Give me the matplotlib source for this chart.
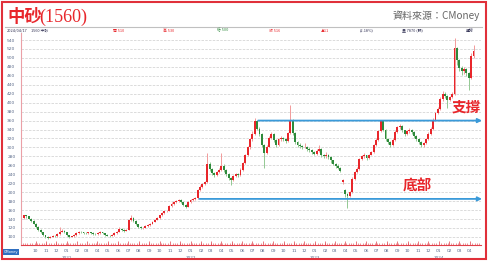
import numpy as np
import pandas as pd
import matplotlib
matplotlib.use("Agg")
import matplotlib.pyplot as plt
import matplotlib.dates as mdates
from matplotlib.patches import Rectangle
from matplotlib.lines import Line2D
from matplotlib.transforms import blended_transform_factory

# weekly candles, 2020-08-28 .. 2024-04-12
dates = pd.date_range("2020-08-28", periods=190, freq="7D")

closes = [
    148, 146, 141, 136, 130, 122, 116, 110, 104, 99,
    98, 100, 103, 101, 106, 112, 114, 110, 104, 100,
    101, 104, 108, 111, 110, 109, 108, 110, 108, 107,
    106, 109, 110, 108, 105, 103, 102, 104, 108, 112,
    118, 116, 114, 116, 137, 142, 136, 129, 122, 119,
    121, 124, 127, 130, 134, 138, 142, 148, 153, 157,
    158, 170, 174, 177, 180, 182, 178, 172, 167, 178,
    182, 185, 186, 205, 212, 218, 222, 264, 252, 242,
    238, 245, 250, 258, 250, 240, 232, 228, 236, 240,
    238, 250, 265, 282, 300, 318, 330, 358, 342, 330,
    305, 288, 302, 322, 330, 316, 306, 318, 322, 318,
    314, 332, 362, 332, 312, 306, 303, 300, 302, 297,
    294, 290, 286, 292, 296, 282, 280, 284, 278, 271,
    264, 259, 255, 248, 227, 196, 192, 200, 230, 245,
    252, 274, 280, 282, 277, 283, 290, 305, 316, 336,
    358, 340, 318, 312, 305, 316, 335, 345, 348, 338,
    330, 336, 340, 334, 325, 318, 312, 305, 310, 318,
    330, 342, 362, 376, 386, 408, 420, 416, 405, 412,
    420, 522, 495, 478, 470, 476, 466, 456, 505, 516,
]

opens = [143] + closes[:-1]
opens[134] = 222
opens[135] = 205

highs = [
    150, 150, 147, 142, 137, 131, 124, 117, 111, 105,
    101, 102, 105, 105, 108, 122, 117, 115, 111, 105,
    103, 106, 110, 113, 113, 112, 111, 112, 111, 110,
    109, 111, 113, 111, 109, 106, 104, 106, 110, 114,
    122, 120, 118, 118, 139, 149, 144, 137, 130, 124,
    123, 126, 129, 132, 136, 140, 144, 150, 155, 159,
    161, 172, 177, 180, 183, 185, 184, 179, 174, 180,
    185, 188, 189, 207, 215, 221, 226, 287, 268, 255,
    246, 248, 254, 287, 262, 252, 242, 235, 239, 243,
    243, 253, 268, 285, 304, 322, 336, 366, 360, 345,
    332, 308, 306, 326, 334, 332, 318, 321, 326, 324,
    320, 335, 395, 364, 334, 315, 309, 306, 310, 304,
    300, 296, 292, 296, 305, 298, 285, 290, 286, 280,
    273, 266, 262, 257, 229, 208, 198, 203, 233, 248,
    256, 277, 284, 287, 284, 286, 293, 308, 320, 340,
    362, 360, 342, 320, 314, 320, 338, 349, 352, 350,
    340, 340, 344, 342, 336, 327, 320, 314, 313, 322,
    334, 346, 366, 380, 390, 412, 426, 424, 418, 416,
    424, 545, 524, 498, 482, 480, 478, 468, 510, 530,
]

lows = [
    141, 143, 139, 134, 128, 120, 114, 108, 102, 97,
    96, 97, 99, 99, 100, 105, 110, 108, 102, 98,
    99, 100, 103, 107, 108, 107, 106, 106, 106, 105,
    104, 105, 107, 106, 103, 101, 100, 101, 103, 107,
    111, 114, 112, 113, 115, 135, 134, 127, 120, 117,
    118, 120, 123, 125, 129, 133, 137, 141, 147, 151,
    155, 157, 168, 172, 175, 178, 176, 170, 164, 166,
    176, 180, 183, 185, 203, 210, 215, 220, 248, 238,
    234, 236, 242, 248, 246, 236, 228, 216, 225, 233,
    234, 236, 248, 262, 280, 297, 315, 328, 338, 326,
    300, 254, 285, 300, 318, 312, 300, 304, 315, 314,
    310, 312, 330, 328, 308, 302, 299, 297, 298, 293,
    290, 286, 282, 284, 289, 278, 276, 277, 274, 266,
    260, 255, 251, 244, 219, 190, 165, 190, 198, 228,
    243, 250, 272, 276, 272, 275, 282, 288, 303, 314,
    334, 336, 314, 308, 300, 303, 314, 333, 342, 334,
    326, 328, 332, 330, 322, 314, 308, 300, 302, 308,
    316, 328, 340, 360, 374, 384, 404, 410, 388, 403,
    410, 418, 485, 470, 462, 465, 460, 428, 452, 500,
]

y_ticks = list(range(100, 541, 20))
support_level = 360
support_start = "2022-07-18"
bottom_level = 185
bottom_start = "2022-01-26"

RED = "#e8262b"
GREEN = "#2e8a3c"
BLUE = "#3a9ad9"

fig = plt.figure(figsize=(4.88, 2.61), dpi=100)
ax = fig.add_axes([21 / 488, 16 / 261, 460 / 488, 212 / 261])

x = mdates.date2num(dates)
o = np.array(opens)
c = np.array(closes)
h = np.array(highs)
l = np.array(lows)
up = c >= o

# wicks
ax.vlines(x[up], l[up], h[up], color="#f29a9a", lw=0.7, zorder=2)
ax.vlines(x[~up], l[~up], h[~up], color="#93c993", lw=0.7, zorder=2)
# bodies
body = np.maximum(np.abs(c - o), 1.0)
ax.bar(x[up], body[up], bottom=np.minimum(o, c)[up], width=5.6,
       color=RED, linewidth=0, zorder=3)
ax.bar(x[~up], body[~up], bottom=np.minimum(o, c)[~up], width=5.6,
       color=GREEN, linewidth=0, zorder=3)

x0 = mdates.date2num(pd.Timestamp("2020-08-19"))
x1 = mdates.date2num(pd.Timestamp("2024-05-04"))
ax.set_xlim(x0, x1)
ax.set_ylim(82, 555.7)

for yv in y_ticks:
    ax.axhline(yv, color="#d6d6d6", lw=0.6, ls=(0, (3, 1.5)), zorder=1)

ax.set_yticks(y_ticks)
ax.set_yticklabels([str(v) for v in y_ticks], fontsize=3.2, color="#5a6a8a")
ax.tick_params(axis="y", length=0, pad=4)

months = pd.date_range("2020-10-01", "2024-04-01", freq="MS")
ax.set_xticks(mdates.date2num(months))
ax.set_xticklabels([m.strftime("%m") for m in months], fontsize=3.2, color="#5a6a8a")
ax.xaxis.set_minor_locator(mdates.WeekdayLocator(byweekday=mdates.MO))
ax.tick_params(axis="x", which="major", direction="in", length=3, color="#e0404a",
               pad=3, width=0.5)
ax.tick_params(axis="x", which="minor", direction="in", length=1.5, color="#e0404a",
               width=0.4)

trans = blended_transform_factory(ax.transData, ax.transAxes)
for m in months:
    if m.month == 1:
        ax.text(mdates.date2num(m), -0.06, str(m.year), transform=trans,
                fontsize=3.0, color="#5a6a8a", ha="center", va="center")

for side in ["top", "right"]:
    ax.spines[side].set_visible(False)
ax.spines["left"].set_color("#eba0a6")
ax.spines["left"].set_linewidth(0.8)
ax.spines["bottom"].set_color("#e0404a")
ax.spines["bottom"].set_linewidth(0.8)

# support / bottom arrows
arrow_end = mdates.date2num(pd.Timestamp("2024-05-07"))
for start, level in [(support_start, support_level), (bottom_start, bottom_level)]:
    ax.annotate("", xy=(arrow_end, level),
                xytext=(mdates.date2num(pd.Timestamp(start)), level),
                arrowprops=dict(arrowstyle="-|>", color=BLUE, lw=1.3,
                                mutation_scale=6, shrinkA=0, shrinkB=0),
                annotation_clip=False, zorder=4)

cjk = ["Noto Sans CJK TC", "DejaVu Sans"]
fig.text(466 / 488, 1 - 107 / 261, "支撐", fontsize=10.5, fontweight="bold",
         color=RED, family=cjk, ha="center", va="center")
fig.text(417 / 488, 1 - 186 / 261, "底部", fontsize=10.5, fontweight="bold",
         color=RED, family=cjk, ha="center", va="center")

# header
fig.text(7 / 488, 1 - 17 / 261, "中砂", fontsize=12.5, color=RED,
         fontweight="bold", family=cjk, ha="left", va="center")
fig.text(39 / 488, 1 - 17 / 261, "(1560)", fontsize=13, color=RED,
         family=["Liberation Serif"], ha="left", va="center")
fig.text(480 / 488, 1 - 16 / 261, "資料來源：CMoney", fontsize=7.2, color="#666666",
         family=cjk, ha="right", va="center")
fig.add_artist(Line2D([5 / 488, 482 / 488], [1 - 27 / 261, 1 - 27 / 261],
                      transform=fig.transFigure, color="#c0c0c0", lw=0.8))

hy = 1 - 30.5 / 261
info = [(7, "2024/04/17", "#333355"), (31, "1560 中砂", "#333355"),
        (113, "開 510", RED), (163, "高 530", RED), (217, "低 500", GREEN),
        (269, "收 516", RED), (321, "▲11", RED), (360, "(2.18%)", "#333355"),
        (402, "量 7870 (張)", "#333355"), (466, "週線", "#333355")]
for px, s, col in info:
    fig.text(px / 488, hy, s, fontsize=2.8, color=col, family=cjk,
             ha="left", va="center")

fig.text(11 / 488, 1 - 252 / 261, "CMoney", fontsize=2.6, color="white",
         ha="center", va="center",
         bbox=dict(boxstyle="square,pad=0.3", fc="#2f6fc0", ec="none"))

fig.add_artist(Rectangle((2 / 488, 2 / 261), 484 / 488, 257 / 261,
                         transform=fig.transFigure, fill=False,
                         edgecolor="#e0303a", lw=1.5))

fig.savefig("out.png", dpi=100)
